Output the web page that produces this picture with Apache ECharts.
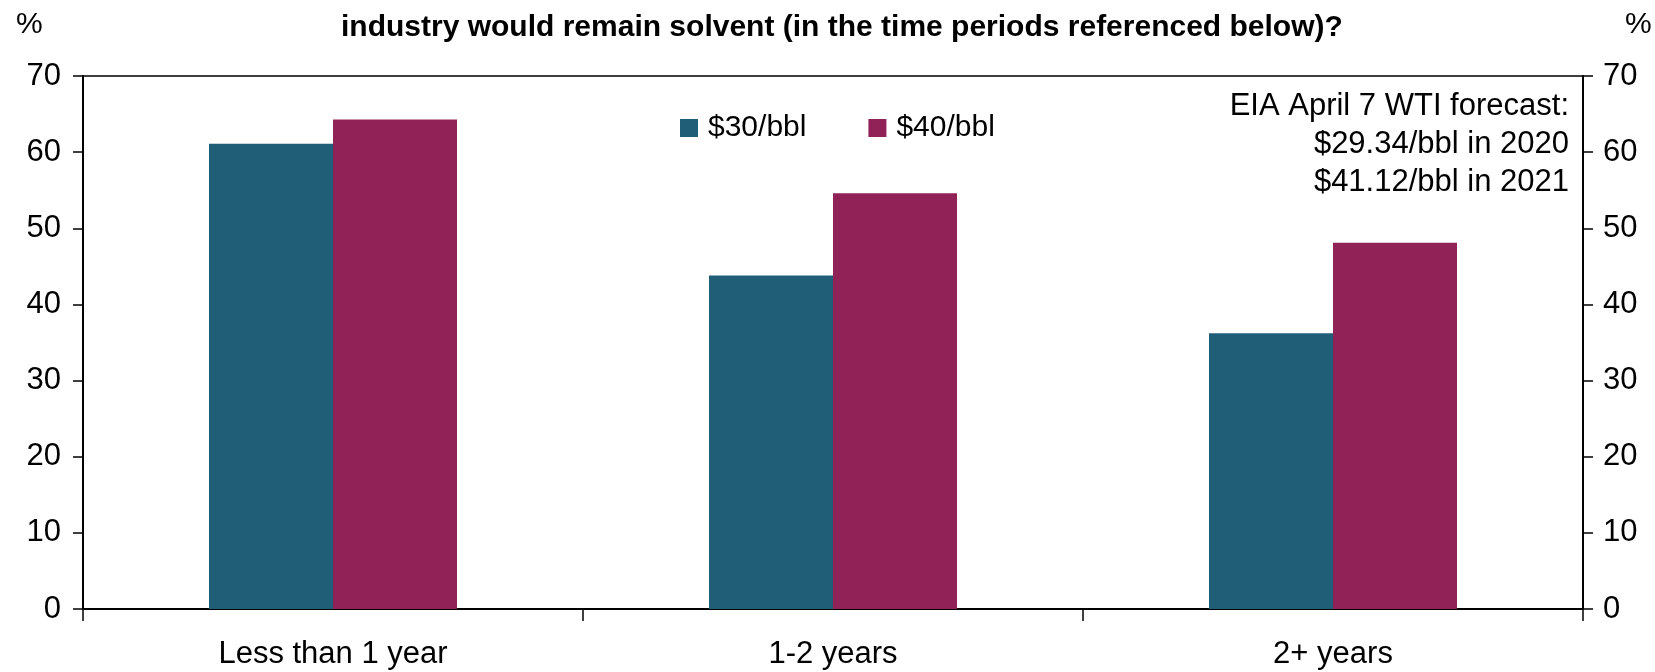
<!DOCTYPE html>
<html>
<head>
<meta charset="utf-8">
<script src="https://cdn.jsdelivr.net/npm/echarts@6/dist/echarts.min.js"></script>
<style>
html,body{margin:0;padding:0;background:#fff;}
#chart{width:1655px;height:672px;}
</style>
</head>
<body>
<div id="chart"></div>
<script>
const categories = ['Less than 1 year', '1-2 years', '2+ years'];
const seriesNames = ['$30/bbl', '$40/bbl'];
const values30 = [61.1, 43.8, 36.2];
const values40 = [64.3, 54.6, 48.1];
const yTicks = { min: 0, max: 70, interval: 10 };
const titleText = 'industry would remain solvent (in the time periods referenced below)?';
const noteLines = ['EIA April 7 WTI forecast:', '$29.34/bbl in 2020', '$41.12/bbl in 2021'];

const FONT = '"Liberation Sans", Arial, sans-serif';
const chart = echarts.init(document.getElementById('chart'), null, { renderer: 'canvas' });

const yAxisBase = {
  type: 'value',
  min: yTicks.min, max: yTicks.max, interval: yTicks.interval,
  splitLine: { show: false },
  axisLine: { show: true, lineStyle: { color: '#000', width: 2 } },
  axisTick: { show: true, inside: false, length: 10, lineStyle: { color: '#000', width: 1.5 } },
  axisLabel: { color: '#000', fontSize: 31, fontFamily: FONT }
};

chart.setOption({
  animation: false,
  backgroundColor: '#fff',
  title: {
    text: titleText,
    left: 336, top: 8,
    textStyle: { fontSize: 30, fontWeight: 'bold', color: '#000', fontFamily: FONT }
  },
  legend: {
    data: seriesNames,
    left: 675, top: 108,
    itemWidth: 18, itemHeight: 18, itemGap: 62,
    icon: 'rect',
    textStyle: { fontSize: 30, color: '#000', fontFamily: FONT, padding: [0, 0, 0, 5] }
  },
  grid: {
    left: 83, right: 72, top: 76, bottom: 63,
    show: true, borderColor: '#000', borderWidth: 1.5, backgroundColor: 'transparent'
  },
  xAxis: {
    type: 'category',
    data: categories,
    boundaryGap: true,
    axisLine: { show: true, lineStyle: { color: '#000', width: 2 } },
    axisTick: { show: true, inside: false, length: 12, alignWithLabel: false, lineStyle: { color: '#000', width: 1.5 } },
    axisLabel: { color: '#000', fontSize: 31, fontFamily: FONT, margin: 30 }
  },
  yAxis: [
    Object.assign({}, yAxisBase, { position: 'left', axisLabel: Object.assign({}, yAxisBase.axisLabel, { margin: 22 }) }),
    Object.assign({}, yAxisBase, { position: 'right', axisLabel: Object.assign({}, yAxisBase.axisLabel, { margin: 20 }) })
  ],
  graphic: [
    { type: 'text', left: 16, top: 10, style: { text: '%', fill: '#000', font: '30px ' + FONT } },
    { type: 'text', left: 1625, top: 10, style: { text: '%', fill: '#000', font: '30px ' + FONT } },
    { type: 'text', x: 1569, y: 87, style: { text: noteLines.join('\n'), align: 'right', verticalAlign: 'top', lineHeight: 38, fill: '#000', font: '31px ' + FONT } }
  ],
  series: [
    { name: seriesNames[0], type: 'bar', data: values30, yAxisIndex: 0, barGap: '0%', barCategoryGap: '50.4%', itemStyle: { color: '#205E78' } },
    { name: seriesNames[1], type: 'bar', data: values40, yAxisIndex: 0, barGap: '0%', barCategoryGap: '50.4%', itemStyle: { color: '#912258' } }
  ]
});
</script>
</body>
</html>
